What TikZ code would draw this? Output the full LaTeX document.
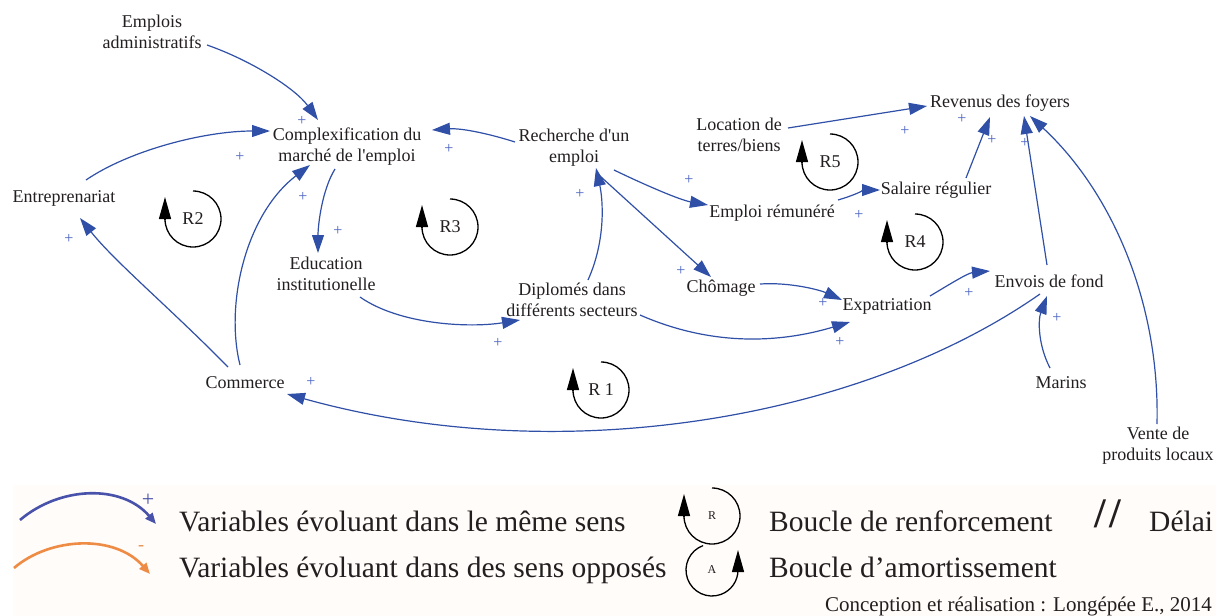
\documentclass[tikz,border=0pt]{standalone}
\usepackage{fontspec}
\setmainfont{Liberation Serif}
\usetikzlibrary{arrows.meta,calc}
\definecolor{lnk}{RGB}{48,80,168}
\definecolor{pls}{RGB}{75,100,195}
\definecolor{lgblue}{RGB}{72,82,170}
\definecolor{org}{RGB}{238,140,70}
\definecolor{lgbg}{RGB}{255,252,250}
\definecolor{txt}{RGB}{35,31,32}
\begin{document}
\begin{tikzpicture}[x=1pt,y=-1pt,
  var/.style={font=\fontsize{18}{21}\selectfont, align=center, inner sep=1pt, text=txt},
  lk/.style={draw=lnk, line width=1.2pt, -{Triangle[length=18pt,width=12pt]}, fill=none},
  pl/.style={text=pls, font=\fontsize{16}{16}\selectfont, inner sep=0pt},
  loopc/.style={draw=black, line width=1.3pt},
  looptip/.style={draw=black, line width=1.3pt, -{Triangle[length=22pt,width=12pt]}},
  lg/.style={font=\fontsize{29.5}{32}\selectfont, inner sep=0pt, text=txt},
  cr/.style={font=\fontsize{21}{24}\selectfont, inner sep=0pt, text=txt}]
\useasboundingbox (0,0) rectangle (1216,616);
\fill[white] (0,0) rectangle (1216,616);
\fill[lgbg] (13,485) rectangle (1216,616);

% variables
\node[var] (emp) at (152,32) {Emplois\\administratifs};
\node[var] (cmp) at (347,147) {Complexification du\\marché de l\textquotesingle emploi};
\node[var] (rech) at (574,148) {Recherche d\textquotesingle un\\emploi};
\node[var] (ent) at (64,198) {Entreprenariat};
\node[var] (edu) at (326,274) {Education\\institutionelle};
\node[var] (dip) at (572,300) {Diplomés dans\\différents secteurs};
\node[var] (cho) at (721,288) {Chômage};
\node[var] (exp) at (887,306) {Expatriation};
\node[var] (env) at (1049,281) {Envois de fond};
\node[var] (erm) at (772,213) {Emploi rémunéré};
\node[var] (sal) at (936,190) {Salaire régulier};
\node[var] (loc) at (739,135) {Location de\\terres/biens};
\node[var] (rev) at (1000,103) {Revenus des foyers};
\node[var] (com) at (245,383) {Commerce};
\node[var] (mar) at (1061,383) {Marins};
\node[var] (ven) at (1158,446) {Vente de\\produits locaux};

% links
\draw[lk] ($(emp)+(55,13)$) .. controls (250,60) and (295,88) .. ($(cmp)+(-29,-27)$);
\draw[lk] ($(ent)+(22,-18)$) .. controls (130,150) and (205,131) .. ($(cmp)+(-77,-16)$);
\draw[lk] ($(rech)+(-59,-6)$) .. controls (490,134) and (462,128) .. ($(cmp)+(85,-17)$);
\draw[lk] ($(com)+(-5,-18)$) .. controls (225,305) and (245,215) .. ($(cmp)+(-37,18)$);
\draw[lk] ($(com)+(-17,-16)$) .. controls (170,308) and (115,262) .. ($(ent)+(16,20)$);
\draw[lk] ($(cmp)+(-12,22)$) .. controls (322,190) and (318,225) .. ($(edu)+(-8,-21)$);
\draw[lk] ($(edu)+(34,23)$) .. controls (400,325) and (470,328) .. ($(dip)+(-52,20)$);
\draw[lk] ($(dip)+(16,-20)$) .. controls (606,240) and (603,200) .. ($(rech)+(22,20)$);
\draw[lk] ($(rech)+(40,22)$) .. controls (645,185) and (680,200) .. ($(erm)+(-64,-8)$);
\draw[lk] ($(rech)+(26,28)$) -- ($(cho)+(-10,-11)$);
\draw[lk] ($(erm)+(66,-13)$) .. controls (855,195) and (865,190) .. ($(sal)+(-56,0)$);
\draw[lk] ($(loc)+(49,-7)$) -- ($(rev)+(-73,3)$);
\draw[lk] ($(sal)+(30,-12)$) -- ($(rev)+(-10,14)$);
\draw[lk] ($(env)+(-2,-16)$) -- ($(rev)+(24,13)$);
\draw[lk] ($(ven)+(-1,-22)$) .. controls (1160,300) and (1110,190) .. ($(rev)+(30,13)$);
\draw[lk] ($(cho)+(39,-4)$) .. controls (790,282) and (820,290) .. ($(exp)+(-45,-6)$);
\draw[lk] ($(dip)+(68,15)$) .. controls (720,350) and (790,340) .. ($(exp)+(-37,16)$);
\draw[lk] ($(exp)+(43,-10)$) .. controls (950,284) and (968,273) .. ($(env)+(-59,-10)$);
\draw[lk] ($(env)+(-9,13)$) .. controls (860,420) and (560,470) .. ($(com)+(42,11)$);
\draw[lk] ($(mar)+(-11,-15)$) .. controls (1038,345) and (1038,320) .. ($(env)+(-2,15)$);

% plus signs
\node[pl] (p1) at (240,157) {+};
\node[pl] (p2) at (302,121) {+};
\node[pl] (p3) at (449,149) {+};
\node[pl] (p4) at (69,239) {+};
\node[pl] (p5) at (303,197) {+};
\node[pl] (p6) at (338,231) {+};
\node[pl] (p7) at (580,194) {+};
\node[pl] (p8) at (498,343) {+};
\node[pl] (p9) at (689,180) {+};
\node[pl] (p10) at (681,271) {+};
\node[pl] (p11) at (859,215) {+};
\node[pl] (p12) at (905,131) {+};
\node[pl] (p13) at (962,119) {+};
\node[pl] (p14) at (992,140) {+};
\node[pl] (p15) at (1025,143) {+};
\node[pl] (p16) at (823,303) {+};
\node[pl] (p17) at (840,342) {+};
\node[pl] (p18) at (969,293) {+};
\node[pl] (p19) at (1057,318) {+};
\node[pl] (p20) at (311,382) {+};

% loops
\foreach \nm/\px/\py/\lab in {r1/601/390/{R 1}, r2/193/219/R2, r3/450/227/R3, r4/915/242/R4, r5/830/162/R5}{
  \node[var] (\nm) at (\px,\py) {\lab};
  \draw[loopc] ($(\nm)+(0,-28)$) arc[start angle=-90, end angle=180, radius=28];
  \draw[looptip] ($(\nm)+(-28,1)$) -- ($(\nm)+(-28,-22)$);
}

% legend
\coordinate (lb1) at (20,520);
\coordinate (lb2) at (156,524);
\draw[draw=lgblue, line width=2.6pt, -{Triangle[length=11pt,width=9pt]}] (lb1) .. controls (60,486) and (122,484) .. (lb2);
\node[text=lgblue, font=\fontsize{22}{22}\selectfont, inner sep=0pt] (lp) at (148,500) {+};
\coordinate (lo1) at (14,568);
\coordinate (lo2) at (150,574);
\draw[draw=org, line width=2.6pt, -{Triangle[length=11pt,width=9pt]}] (lo1) .. controls (50,537) and (115,534) .. (lo2);
\node[text=org, font=\fontsize{18}{18}\selectfont, inner sep=0pt] (lm) at (141,548) {-};
\node[lg, anchor=base west] (t1) at (179,531) {Variables évoluant dans le même sens};
\node[lg, anchor=base west] (t2) at (179,577) {Variables évoluant dans des sens opposés};

\node[font=\fontsize{12}{12}\selectfont, inner sep=0pt, text=txt] (lr) at (712,516) {R};
\draw[loopc] ($(lr)+(0,-28)$) arc[start angle=-90, end angle=180, radius=28];
\draw[looptip] ($(lr)+(-28,1)$) -- ($(lr)+(-28,-22)$);
\node[font=\fontsize{12}{12}\selectfont, inner sep=0pt, text=txt] (la) at (712,570) {A};
\draw[loopc] ($(la)+(-110:26)$) arc[start angle=-110, end angle=-360, radius=26];
\draw[looptip] ($(la)+(26,1)$) -- ($(la)+(26,-20)$);

\node[lg, anchor=base west] (t3) at (769,531) {Boucle de renforcement};
\node[lg, anchor=base west] (t4) at (769,577) {Boucle d’amortissement};
\node[lg, font=\fontsize{42}{42}\selectfont\bfseries, anchor=base] (sl) at (1108,527) {/\kern3pt/};
\node[lg, anchor=base west] (t5) at (1149,531) {Délai};
\node[cr, anchor=base east] (t6) at (1212,611) {Conception et réalisation : Longépée E., 2014};
\end{tikzpicture}
\end{document}
